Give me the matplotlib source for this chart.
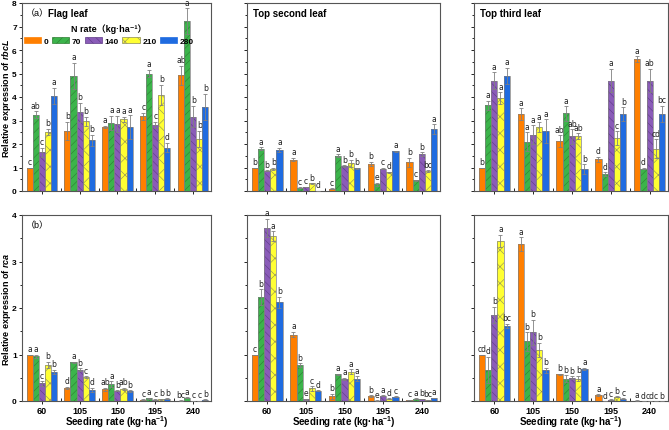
import matplotlib
matplotlib.use("Agg")
import matplotlib.pyplot as plt
from matplotlib.patches import Patch
import numpy as np

plt.rcParams['font.family'] = ['Liberation Sans', 'Noto Sans CJK SC', 'DejaVu Sans']
plt.rcParams['mathtext.fontset'] = 'custom'
plt.rcParams['mathtext.it'] = 'Liberation Sans:italic:bold'
plt.rcParams['mathtext.rm'] = 'Liberation Sans:bold'
plt.rcParams['hatch.linewidth'] = 0.4

# seeding rates (groups) and N rates (series)
seeding = ['60', '105', '150', '195', '240']
n_rates = ['0', '70', '140', '210', '280']

# rows = seeding rate, columns = N rate
rbcl_flag = [[1.0, 3.25, 1.65, 2.52, 4.05],
             [2.55, 4.9, 3.35, 2.97, 2.15],
             [2.72, 2.9, 2.85, 3.05, 2.73],
             [3.18, 5.0, 2.82, 4.1, 1.85],
             [4.93, 7.22, 3.17, 2.22, 3.58]]
rbcl_flag_err = [[0, 0.15, 0.2, 0.13, 0.35],
                 [0.4, 0.55, 0.4, 0.2, 0.25],
                 [0.05, 0.3, 0.35, 0.1, 0.5],
                 [0.15, 0.17, 0.13, 0.42, 0.2],
                 [0.4, 0.55, 0.45, 0.35, 0.55]]
rbcl_flag_sig = [['c', 'ab', 'c', 'b', 'a'],
                 ['b', 'a', 'b', 'b', 'b'],
                 ['a', 'a', 'a', 'a', 'a'],
                 ['c', 'a', 'c', 'b', 'd'],
                 ['ab', 'a', 'b', 'b', 'b']]

rbcl_second = [[1.0, 1.8, 0.87, 0.93, 1.74],
               [1.34, 0.13, 0.17, 0.32, 0.01],
               [0.1, 1.5, 1.05, 1.18, 0.97],
               [1.16, 0.28, 0.95, 0.8, 1.7],
               [1.22, 0.45, 1.57, 0.85, 2.63]]
rbcl_second_err = [[0, 0.07, 0.02, 0.05, 0.1],
                   [0.08, 0.02, 0.02, 0.02, 0],
                   [0.02, 0.06, 0.04, 0.15, 0.03],
                   [0.08, 0.08, 0.03, 0.02, 0.02],
                   [0.2, 0.03, 0.08, 0.04, 0.2]]
rbcl_second_sig = [['b', 'a', 'b', 'b', 'a'],
                   ['a', 'c', 'c', 'b', 'd'],
                   ['c', 'a', 'b', 'b', 'b'],
                   ['b', 'e', 'c', 'd', 'a'],
                   ['b', 'c', 'b', 'bc', 'a']]

rbcl_third = [[1.0, 3.65, 4.7, 3.95, 4.9],
              [3.27, 2.1, 2.4, 2.72, 2.55],
              [2.12, 3.3, 2.32, 2.34, 0.93],
              [1.35, 0.72, 4.7, 2.24, 3.27],
              [5.6, 0.95, 4.7, 1.8, 3.27]]
rbcl_third_err = [[0, 0.2, 0.35, 0.25, 0.35],
                  [0.25, 0.4, 0.4, 0.2, 0.5],
                  [0.25, 0.3, 0.3, 0.12, 0.2],
                  [0.1, 0.07, 0.5, 0.3, 0.3],
                  [0.13, 0.03, 0.5, 0.4, 0.35]]
rbcl_third_sig = [['b', 'a', 'a', 'a', 'a'],
                  ['a', 'a', 'a', 'a', 'a'],
                  ['ab', 'a', 'ab', 'ab', 'b'],
                  ['d', 'd', 'a', 'c', 'b'],
                  ['a', 'd', 'ab', 'cd', 'bc']]

rca_flag = [[1.0, 0.96, 0.38, 0.77, 0.62],
            [0.28, 0.83, 0.67, 0.51, 0.24],
            [0.25, 0.37, 0.22, 0.26, 0.21],
            [0.03, 0.06, 0.03, 0.04, 0.05],
            [0.01, 0.07, 0.005, 0.005, 0.03]]
rca_flag_err = [[0, 0.04, 0.05, 0.07, 0.05],
                [0.03, 0.01, 0.03, 0.02, 0.04],
                [0.03, 0.06, 0.01, 0.02, 0.02],
                [0.01, 0.01, 0.01, 0.01, 0.01],
                [0.005, 0.01, 0.002, 0.002, 0.005]]
rca_flag_sig = [['a', 'a', 'c', 'b', 'b'],
                ['d', 'a', 'b', 'c', 'd'],
                ['ab', 'a', 'b', 'ab', 'b'],
                ['c', 'a', 'c', 'b', 'b'],
                ['bc', 'a', 'c', 'c', 'b']]

rca_second = [[1.0, 2.23, 3.72, 3.55, 2.12],
              [1.43, 0.77, 0.04, 0.27, 0.22],
              [0.1, 0.57, 0.48, 0.63, 0.48],
              [0.1, 0.01, 0.11, 0.05, 0.09],
              [0.02, 0.05, 0.04, 0.02, 0.06]]
rca_second_err = [[0, 0.17, 0.2, 0.1, 0.12],
                  [0.06, 0.04, 0.01, 0.05, 0.01],
                  [0.06, 0.02, 0.02, 0.05, 0.05],
                  [0.02, 0.005, 0.01, 0.01, 0.01],
                  [0.005, 0.005, 0.005, 0.005, 0.005]]
rca_second_sig = [['c', 'b', 'a', 'a', 'b'],
                  ['a', 'b', 'e', 'c', 'd'],
                  ['b', 'a', 'a', 'a', 'a'],
                  ['b', 'e', 'a', 'd', 'c'],
                  ['c', 'a', 'b', 'bc', 'a']]

rca_third = [[1.0, 0.67, 1.85, 3.45, 1.62],
             [3.37, 1.28, 1.48, 1.1, 0.66],
             [0.57, 0.48, 0.5, 0.48, 0.69],
             [0.13, 0.0, 0.03, 0.09, 0.05],
             [0.01, 0.0, 0.0, 0.0, 0.0]]
rca_third_err = [[0, 0.28, 0.18, 0.13, 0.04],
                 [0.15, 0.2, 0.27, 0.15, 0.06],
                 [0.02, 0.07, 0.03, 0.06, 0.03],
                 [0.02, 0, 0.005, 0.01, 0.005],
                 [0.003, 0, 0, 0, 0]]
rca_third_sig = [['cd', 'd', 'b', 'a', 'bc'],
                 ['a', 'b', 'b', 'b', 'b'],
                 ['b', 'b', 'b', 'b', 'a'],
                 ['a', 'd', 'c', 'b', 'c'],
                 ['a', 'd', 'cd', 'c', 'b']]

colors = ['#FF7F00', '#3CB44B', '#8A5CB8', '#FFFF33', '#1F6BE0']
hatch_colors = ['#FF7F00', '#2E7D32', '#5E3A86', '#8A8A5A', '#1F6BE0']
hatches = [None, '////', '\\\\\\\\', 'xx', None]

W, H = 669, 431
fig = plt.figure(figsize=(W / 100, H / 100), dpi=100)

def px_axes(x0, y0, x1, y1):
    return fig.add_axes([x0 / W, 1 - y1 / H, (x1 - x0) / W, (y1 - y0) / H])

cols = [(22, 211), (247, 440), (474, 668)]
rows = [(4, 192), (216, 402)]

bw = 0.16
x = np.arange(len(seeding))

def draw_panel(ax, vals, errs, sigs, ymax, ytick_labels, bottom):
    vals = np.array(vals)
    errs = np.array(errs)
    for j in range(len(n_rates)):
        xs = x + (j - 2) * bw
        ax.bar(xs, vals[:, j], bw, color=colors[j], edgecolor=hatch_colors[j],
               hatch=hatches[j], linewidth=0, zorder=2)
        ax.bar(xs, vals[:, j], bw, fill=False, edgecolor='#7f7f7f', linewidth=0.5, zorder=3)
        ax.errorbar(xs, vals[:, j], yerr=errs[:, j], fmt='none', ecolor='#808080',
                    elinewidth=0.6, capsize=1.5, capthick=0.6, zorder=4)
        for i in range(len(seeding)):
            ax.text(xs[i], vals[i, j] + errs[i, j] + ymax * 0.008, sigs[i][j],
                    ha='center', va='bottom', fontsize=5.5, color='#222222',
                    family='DejaVu Sans')
    ax.set_xlim(-0.52, 4.47)
    ax.set_ylim(0, ymax)
    ax.set_yticks(np.arange(0, ymax + 0.01, 1))
    ax.set_yticks(np.arange(0.5, ymax, 1), minor=True)
    ax.set_xticks(x)
    ax.set_xticks(x[:-1] + 0.5, minor=True)
    ax.tick_params(axis='y', which='major', direction='out', length=2.5, width=0.6,
                   labelsize=6, pad=1.2)
    ax.tick_params(axis='y', which='minor', direction='out', length=1.5, width=0.6)
    ax.tick_params(axis='x', which='major', direction='out', length=2.5, width=0.6,
                   labelsize=6.5, pad=1.2)
    ax.tick_params(axis='x', which='minor', direction='in', length=2, width=0.6)
    if bottom:
        ax.set_xticklabels(seeding, fontweight='bold')
    else:
        ax.set_xticklabels([])
    if ytick_labels:
        for t in ax.get_yticklabels():
            t.set_fontweight('bold')
    else:
        ax.set_yticklabels([])
    for s in ax.spines.values():
        s.set_linewidth(0.8)
        s.set_color('#555555')

panels = [
    (0, 0, rbcl_flag, rbcl_flag_err, rbcl_flag_sig, 8, 'Flag leaf'),
    (0, 1, rbcl_second, rbcl_second_err, rbcl_second_sig, 8, 'Top second leaf'),
    (0, 2, rbcl_third, rbcl_third_err, rbcl_third_sig, 8, 'Top third leaf'),
    (1, 0, rca_flag, rca_flag_err, rca_flag_sig, 4, None),
    (1, 1, rca_second, rca_second_err, rca_second_sig, 4, None),
    (1, 2, rca_third, rca_third_err, rca_third_sig, 4, None),
]

axes = {}
for r, c, v, e, s, ymax, title in panels:
    ax = px_axes(cols[c][0], rows[r][0], cols[c][1], rows[r][1])
    draw_panel(ax, v, e, s, ymax, c == 0, r == 1)
    axes[(r, c)] = ax
    if title:
        xt = 0.14 if c == 0 else 0.03
        ax.text(xt, 0.975, title, transform=ax.transAxes, ha='left', va='top',
                fontsize=7, fontweight='bold')
    if r == 1:
        ax.set_xlabel('Seeding rate (kg·ha$^{-1}$)', fontsize=7, fontweight='bold')
        ax.xaxis.set_label_coords(0.5, -0.068)

axes[(0, 0)].text(0.02, 0.975, '（a）', transform=axes[(0, 0)].transAxes, ha='left',
                  va='top', fontsize=6.5)
axes[(1, 0)].text(0.02, 0.975, '（b）', transform=axes[(1, 0)].transAxes, ha='left',
                  va='top', fontsize=6.5)

axes[(0, 0)].set_ylabel('Relative expression of $\\it{rbcL}$', fontsize=6.5, fontweight='bold')
axes[(1, 0)].set_ylabel('Relative expression of $\\it{rca}$', fontsize=6.5, fontweight='bold')
axes[(0, 0)].yaxis.set_label_coords(-0.05, 0.5)
axes[(1, 0)].yaxis.set_label_coords(-0.05, 0.5)

handles = [Patch(facecolor=colors[j], edgecolor=hatch_colors[j], hatch=hatches[j], linewidth=0.5)
           for j in range(len(n_rates))]
leg = axes[(0, 0)].legend(handles, n_rates, ncol=5, loc='upper center',
                          bbox_to_anchor=(0.46, 0.92), frameon=False,
                          title='N rate（kg·ha⁻¹）', fontsize=6,
                          handlelength=2.1, handleheight=0.8, handletextpad=0.3,
                          columnspacing=0.4, borderpad=0.1)
leg.get_title().set_fontsize(6.5)
leg.get_title().set_fontweight('bold')
for t in leg.get_texts():
    t.set_fontweight('bold')

fig.savefig('out.png', dpi=100)
